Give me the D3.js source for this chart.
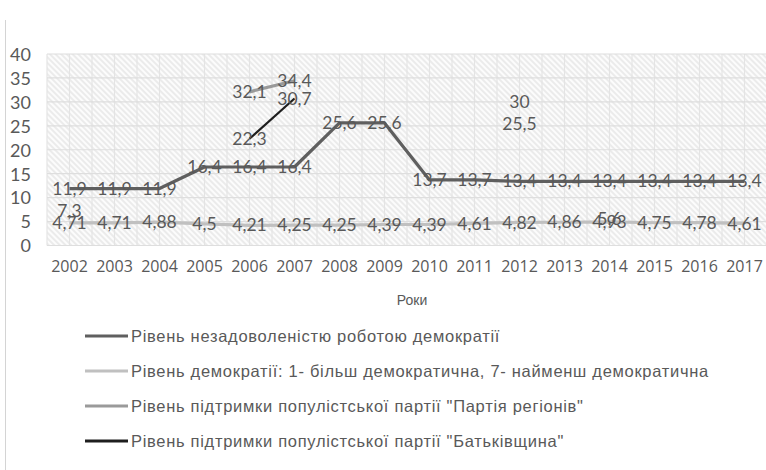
<!DOCTYPE html>
<html>
<head>
<meta charset="utf-8">
<script src="https://cdn.jsdelivr.net/npm/d3@7/dist/d3.min.js"></script>
<style>
  html, body { margin: 0; padding: 0; background: #fff; }
  svg { display: block; }
</style>
</head>
<body>
<svg id="chart" width="766" height="470"></svg>
<script>
const years = ["2002","2003","2004","2005","2006","2007","2008","2009","2010","2011","2012","2013","2014","2015","2016","2017"];
const dissatisfaction = [11.9,11.9,11.9,16.4,16.4,16.4,25.6,25.6,13.7,13.7,13.4,13.4,13.4,13.4,13.4,13.4];
const democracy = [4.71,4.71,4.88,4.5,4.21,4.25,4.25,4.39,4.39,4.61,4.82,4.86,4.93,4.75,4.78,4.61];
const regions = [null,null,null,null,32.1,34.4,null,null,null,null,30,null,null,null,null,null];
const batkivshchyna = [7.3,null,null,null,22.3,30.7,null,null,null,null,25.5,null,5.6,null,null,null];
const yTicks = [0,5,10,15,20,25,30,35,40];
const seriesNames = [
  "Рівень незадоволеністю роботою демократії",
  "Рівень демократії: 1- більш демократична, 7- найменш демократична",
  "Рівень підтримки популістської партії \"Партія регіонів\"",
  "Рівень підтримки популістської партії \"Батьківщина\""
];
const xTitle = "Роки";

const series = [
  {name: seriesNames[0], values: dissatisfaction, color: "#5f5f5f", width: 3.2},
  {name: seriesNames[1], values: democracy, color: "#c0c0c0", width: 3.2},
  {name: seriesNames[2], values: regions, color: "#9a9a9a", width: 3.2},
  {name: seriesNames[3], values: batkivshchyna, color: "#1e1e1e", width: 2.2}
];

const svg = d3.select("#chart");
const W = 766, H = 470;
const plot = {left: 47, right: 767, top: 54, bottom: 245.5};

const x = d3.scaleBand().domain(years).range([plot.left, plot.right]).padding(0);
const cx = d => x(d) + x.bandwidth() / 2;
const y = d3.scaleLinear().domain([0, 40]).range([plot.bottom, plot.top]);

// outer border (left edge of chart frame)
svg.append("line").attr("x1", 5.5).attr("x2", 5.5).attr("y1", 20).attr("y2", H)
  .attr("stroke", "#d4d4d4").attr("stroke-width", 1);

// hatch pattern
const defs = svg.append("defs");
const pat = defs.append("pattern").attr("id", "hatch").attr("patternUnits", "userSpaceOnUse")
  .attr("width", 4).attr("height", 4).attr("patternTransform", "rotate(-45)");
pat.append("rect").attr("width", 4).attr("height", 4).attr("fill", "#fcfcfc");
pat.append("line").attr("x1", 1).attr("x2", 1).attr("y1", 0).attr("y2", 4)
  .attr("stroke", "#dadada").attr("stroke-width", 1);

svg.append("rect").attr("x", plot.left).attr("y", plot.top)
  .attr("width", plot.right - plot.left).attr("height", plot.bottom - plot.top)
  .attr("fill", "url(#hatch)");

// vertical grid lines at band edges and centers
const vLines = [];
years.forEach(yr => { vLines.push(x(yr)); vLines.push(cx(yr)); });
vLines.push(plot.right);
svg.append("g").selectAll("line").data(vLines).join("line")
  .attr("x1", d => d).attr("x2", d => d).attr("y1", plot.top).attr("y2", plot.bottom)
  .attr("stroke", "#e4e4e4").attr("stroke-width", 1.2);

// horizontal grid lines
svg.append("g").selectAll("line").data(yTicks).join("line")
  .attr("x1", plot.left).attr("x2", plot.right).attr("y1", d => y(d)).attr("y2", d => y(d))
  .attr("stroke", "#dedede").attr("stroke-width", 1.2);

// y axis
const yAxis = svg.append("g").attr("transform", "translate(31,0)")
  .call(d3.axisLeft(y).tickValues(yTicks).tickSize(0).tickPadding(0).tickFormat(d3.format("d")));
yAxis.select(".domain").remove();
yAxis.selectAll("text").attr("fill", "#595959").style("font-family", "Lato, 'Open Sans', sans-serif")
  .style("font-size", "18px").attr("dy", "0.35em");

// x axis
const xAxis = svg.append("g").attr("transform", `translate(0,${plot.bottom})`)
  .call(d3.axisBottom(x).tickSize(0).tickPadding(15));
xAxis.select(".domain").remove();
xAxis.selectAll("text").attr("fill", "#595959").style("font-family", "'Liberation Sans Narrow', 'Open Sans', sans-serif")
  .style("font-size", "16px");

svg.append("text").attr("x", 412).attr("y", 305)
  .attr("text-anchor", "middle").attr("fill", "#595959")
  .style("font-family", "'Liberation Sans', sans-serif").style("font-size", "14px").text(xTitle);

// lines
const line = d3.line().defined(d => d.v !== null).x(d => cx(d.yr)).y(d => y(d.v));
series.forEach(s => {
  const pts = years.map((yr, i) => ({yr, v: s.values[i]}));
  svg.append("path").datum(pts).attr("d", line).attr("fill", "none")
    .attr("stroke", s.color).attr("stroke-width", s.width).attr("stroke-linejoin", "round");
});

// data labels
series.forEach(s => {
  const pts = years.map((yr, i) => ({yr, v: s.values[i]})).filter(d => d.v !== null);
  svg.append("g").selectAll("text").data(pts).join("text")
    .attr("x", d => cx(d.yr)).attr("y", d => y(d.v)).attr("dy", "0.35em")
    .attr("text-anchor", "middle").attr("fill", "#595959")
    .style("font-family", "Lato, 'Open Sans', sans-serif").style("font-size", "17.5px")
    .text(d => String(d.v).replace(".", ","));
});

// legend
const legY = [336, 371, 406, 441];
series.forEach((s, i) => {
  const g = svg.append("g").attr("transform", `translate(0,${legY[i]})`);
  g.append("line").attr("x1", 85).attr("x2", 128).attr("y1", 0).attr("y2", 0)
    .attr("stroke", s.color).attr("stroke-width", 3);
  g.append("text").attr("x", 131).attr("y", 0).attr("dy", "0.35em").attr("fill", "#595959")
    .style("font-family", "'Liberation Sans Narrow', sans-serif").style("font-size", "16.5px")
    .style("letter-spacing", "0.7px").text(s.name);
});
</script>
</body>
</html>
